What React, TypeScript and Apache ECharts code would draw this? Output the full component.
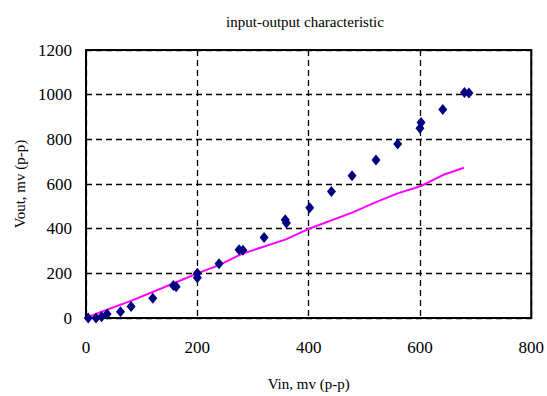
import React, { useEffect, useRef } from "react";
import * as echarts from "echarts";

const measuredVin = [4, 18, 28, 38, 62, 81, 120, 157, 162, 200, 200, 239, 275, 282, 320, 358, 360, 402, 441, 478, 521, 560, 600, 602, 641, 680, 688];
const measuredVout = [0, 0, 6, 18, 28, 51, 88, 145, 140, 180, 200, 243, 306, 303, 361, 440, 425, 494, 566, 637, 708, 779, 850, 875, 934, 1010, 1008];

const theoryVin = [2, 28, 82, 160, 200, 239, 280, 359, 402, 478, 521, 560, 602, 641, 679];
const theoryVout = [3, 28, 78, 158, 200, 237, 287, 352, 401, 472, 519, 558, 591, 640, 673];

const xTicks = [0, 200, 400, 600, 800];
const yTicks = [0, 200, 400, 600, 800, 1000, 1200];

export default function App() {
  const ref = useRef<HTMLDivElement>(null);
  useEffect(() => {
    const chart = echarts.init(ref.current!, undefined, { renderer: "svg" });
    const font = "Liberation Serif";
    chart.setOption({
      animation: false,
      backgroundColor: "#fff",
      textStyle: { fontFamily: font },
      title: {
        text: "input-output characteristic",
        left: 300,
        textAlign: "center",
        top: 9,
        textStyle: { fontFamily: font, fontSize: 15, fontWeight: "normal", color: "#000" },
      },
      grid: {
        left: 86,
        right: 15,
        top: 50,
        bottom: 78,
        show: true,
        borderColor: "#000",
        borderWidth: 2,
        backgroundColor: "transparent",
      },
      xAxis: {
        type: "value",
        min: xTicks[0],
        max: xTicks[xTicks.length - 1],
        interval: 200,
        name: "Vin, mv (p-p)",
        nameLocation: "middle",
        nameGap: 58,
        nameTextStyle: { fontFamily: font, fontSize: 15, color: "#000" },
        axisLine: { show: true, lineStyle: { color: "#000", width: 2 } },
        axisTick: { show: false },
        axisLabel: { fontFamily: font, fontSize: 17, color: "#000", margin: 21, formatter: (v: number) => String(v) },
        splitLine: { show: true, lineStyle: { color: "#000", type: [6, 4], width: 1.3 } },
      },
      yAxis: {
        type: "value",
        min: yTicks[0],
        max: yTicks[yTicks.length - 1],
        interval: 200,
        name: "Vout, mv (p-p)",
        nameLocation: "middle",
        nameGap: 56,
        nameTextStyle: { fontFamily: font, fontSize: 15, color: "#000" },
        axisLine: { show: true, lineStyle: { color: "#000", width: 2 } },
        axisTick: { show: false },
        axisLabel: { fontFamily: font, fontSize: 17, color: "#000", margin: 14, formatter: (v: number) => String(v) },
        splitLine: { show: true, lineStyle: { color: "#000", type: [6, 4], width: 1.3 } },
      },
      series: [
        {
          type: "line",
          data: theoryVin.map((x, i) => [x, theoryVout[i]]),
          showSymbol: false,
          symbol: "none",
          lineStyle: { color: "#ff00ff", width: 2 },
          z: 2,
        },
        {
          type: "scatter",
          data: measuredVin.map((x, i) => [x, measuredVout[i]]),
          symbol: "diamond",
          symbolSize: [9, 11],
          itemStyle: { color: "#000080", opacity: 1 },
          z: 3,
        },
      ],
    });
    return () => chart.dispose();
  }, []);
  return <div ref={ref} style={{ position: "fixed", left: 0, top: 0, width: 547, height: 396 }} />;
}
